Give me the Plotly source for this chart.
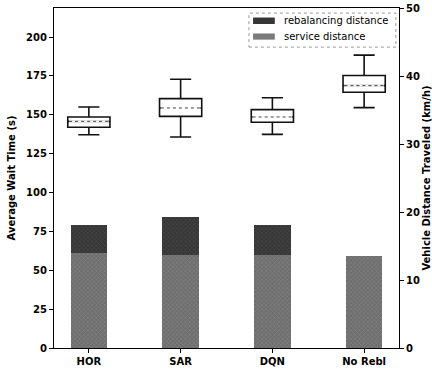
import plotly.graph_objects as go

# Strategies compared
methods = ["HOR", "SAR", "DQN", "No Rebl"]

# Average wait time (s) box statistics per strategy
wait_lower = [137.2, 135.7, 137.4, 154.6]
wait_q1 = [142.0, 149.0, 145.2, 164.5]
wait_median = [145.8, 154.4, 148.6, 168.8]
wait_q3 = [148.6, 160.4, 153.3, 175.3]
wait_upper = [155.0, 172.9, 161.0, 188.4]

# Vehicle distance traveled (km/h), stacked
service_dist = [13.9, 13.7, 13.7, 13.5]
rebal_dist = [4.2, 5.5, 4.4, 0.0]

pos = list(range(len(methods)))
box_w = 0.46
bar_w = 0.4

SERVICE_BG, SERVICE_FG = "#6e6e6e", "#9a9a9a"
REBAL_BG, REBAL_FG = "#363636", "#5a5a5a"

FONT = dict(family="DejaVu Sans", size=10, color="black", weight="bold")
LEG_FONT = dict(family="DejaVu Sans", size=10, color="black", weight="normal")

fig = go.Figure()

# Stacked distance bars (right axis)
fig.add_trace(go.Bar(
    x=pos, y=service_dist, width=bar_w, name="service distance",
    marker=dict(color=SERVICE_BG, line=dict(width=0),
                pattern=dict(shape="x", size=3, solidity=0.35,
                             fgcolor=SERVICE_FG, bgcolor=SERVICE_BG)),
    yaxis="y", showlegend=False,
))
fig.add_trace(go.Bar(
    x=pos, y=rebal_dist, width=bar_w, name="rebalancing distance",
    marker=dict(color=REBAL_BG, line=dict(width=0),
                pattern=dict(shape="x", size=3, solidity=0.35,
                             fgcolor=REBAL_FG, bgcolor=REBAL_BG)),
    yaxis="y", showlegend=False,
))

# Wait time boxes (left axis)
fig.add_trace(go.Box(
    x=pos, lowerfence=wait_lower, q1=wait_q1, median=wait_median,
    q3=wait_q3, upperfence=wait_upper, width=box_w, whiskerwidth=0.5,
    fillcolor="white", line=dict(color="#111111", width=1.6),
    showlegend=False, yaxis="y2", hoverinfo="skip",
))

# Dotted median markers drawn over each box
for p, m in zip(pos, wait_median):
    xs = [p - box_w / 2 + 0.015, p + box_w / 2 - 0.015]
    fig.add_trace(go.Scatter(x=xs, y=[m, m], mode="lines",
                             line=dict(color="white", width=2.4),
                             showlegend=False, yaxis="y2", hoverinfo="skip"))
    fig.add_trace(go.Scatter(x=xs, y=[m, m], mode="lines",
                             line=dict(color="#444444", width=1, dash="dot"),
                             showlegend=False, yaxis="y2", hoverinfo="skip"))

# Legend panel: dotted frame, swatches and labels (paper coordinates)
legend_entries = [
    ("rebalancing distance", REBAL_BG, 0.953, 0.972, 0.963),
    ("service distance", "#7a7a7a", 0.907, 0.925, 0.916),
]
shapes = [dict(
    type="rect", xref="paper", yref="paper",
    x0=0.565, x1=0.991, y0=0.885, y1=0.985,
    line=dict(color="#999999", width=1, dash="dot"),
    fillcolor="white", layer="above",
)]
annotations = []
for label, color, y0, y1, yc in legend_entries:
    shapes.append(dict(
        type="rect", xref="paper", yref="paper",
        x0=0.577, x1=0.640, y0=y0, y1=y1,
        line=dict(width=0), fillcolor=color, layer="above",
    ))
    annotations.append(dict(
        xref="paper", yref="paper", x=0.662, y=yc,
        xanchor="left", yanchor="middle", text=label,
        showarrow=False, font=LEG_FONT,
    ))

fig.update_layout(
    width=432, height=371,
    margin=dict(l=54, r=33, t=8, b=23, autoexpand=False),
    barmode="stack",
    plot_bgcolor="white", paper_bgcolor="white",
    font=FONT,
    xaxis=dict(
        range=[-0.38, 3.38], tickmode="array", tickvals=pos, ticktext=methods,
        showline=True, linecolor="black", linewidth=1.2, mirror=True,
        ticks="outside", ticklen=4, tickcolor="black", showgrid=False,
        zeroline=False, tickfont=FONT, automargin=False,
    ),
    yaxis=dict(
        range=[0, 50], side="right", tickmode="array",
        tickvals=[0, 10, 20, 30, 40, 50],
        showline=True, linecolor="black", linewidth=1.2,
        ticks="outside", ticklen=4, tickcolor="black", showgrid=False,
        zeroline=False, tickfont=FONT, automargin=False,
        title=dict(text="Vehicle Distance Traveled (km/h)", font=FONT, standoff=14),
    ),
    yaxis2=dict(
        range=[0, 218.7], side="left", overlaying="y", tickmode="array",
        tickvals=[0, 25, 50, 75, 100, 125, 150, 175, 200],
        showline=True, linecolor="black", linewidth=1.2,
        ticks="outside", ticklen=4, tickcolor="black", showgrid=False,
        zeroline=False, tickfont=FONT, automargin=False,
        title=dict(text="Average Wait Time (s)", font=FONT, standoff=8),
    ),
    shapes=shapes,
    annotations=annotations,
    showlegend=False,
)

fig.write_html("out.html")
